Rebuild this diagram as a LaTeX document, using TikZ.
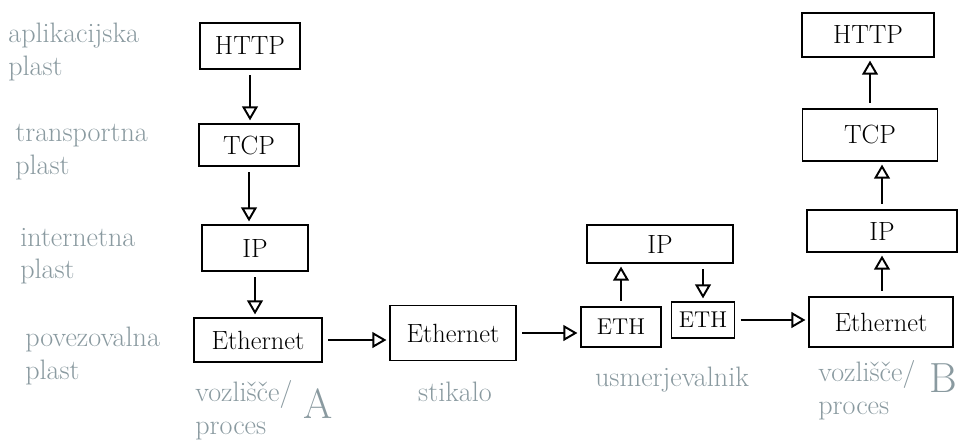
\documentclass[tikz,border=0pt]{standalone}
\usetikzlibrary{arrows.meta}
\definecolor{pencil}{RGB}{138,154,160}
\begin{document}
\begin{tikzpicture}[x=0.02cm,y=-0.02cm,
    layer/.style 2 args={draw,line width=1.1pt,inner sep=1pt,
      minimum width=#1,minimum height=#2,font=\fontsize{15}{18}\selectfont},
    note/.style={text=pencil,align=left,inner sep=0pt,
      font=\fontsize{16}{18.5}\selectfont},
    mark letter/.style={text=pencil,inner sep=0pt,font=\fontsize{24}{24}\selectfont}]
  \useasboundingbox (0,0) rectangle (972,442);
  \draw
    (250,46) node[layer={2cm}{0.92cm}] (httpA){HTTP}
    (249,145) node[layer={2cm}{0.84cm}] (tcpA){TCP}
    (255,248) node[layer={2.12cm}{0.92cm}] (ipA){IP}
    (258,340) node[layer={2.56cm}{0.88cm}] (ethA){Ethernet}
    (453,333) node[layer={2.52cm}{1.1cm}] (ethS){Ethernet}
    (621,327) node[layer={1.6cm}{0.8cm},font=\fontsize{13}{16}\selectfont] (ethR1){ETH}
    (703,320) node[layer={1.26cm}{0.72cm},font=\fontsize{13}{16}\selectfont] (ethR2){ETH}
    (660,244) node[layer={2.92cm}{0.76cm}] (ipR){IP}
    (881,322) node[layer={2.88cm}{1cm}] (ethB){Ethernet}
    (882,231) node[layer={3cm}{0.84cm}] (ipB){IP}
    (870,135) node[layer={2.7cm}{1.04cm}] (tcpB){TCP}
    (868,35) node[layer={2.64cm}{0.88cm}] (httpB){HTTP};
  % plasti
  \draw
    (8,52) node[note,anchor=west] (appL){aplikacijska\\plast}
    (15,152) node[note,anchor=west] (trL){transportna\\plast}
    (20,256) node[note,anchor=west] (inL){internetna\\plast}
    (25,356) node[note,anchor=west] (linkL){povezovalna\\plast};
  % naprave
  \draw
    (195,410) node[note,anchor=west] (hostA){vozlišče/\\proces}
    (318,404) node[mark letter] (letA){A}
    (455,392) node[note] (switch){stikalo}
    (672,380) node[note] (router){usmerjevalnik}
    (818,390) node[note,anchor=west] (hostB){vozlišče/\\proces}
    (943,378) node[mark letter] (letB){B};
  \begin{scope}[-{Triangle[open,length=8pt,width=9pt]},line width=1.1pt,
      shorten >=1.5pt,shorten <=3pt]
    \draw (httpA.south) -- (httpA.south |- tcpA.north);
    \draw (tcpA.south) -- (tcpA.south |- ipA.north);
    \draw (ipA.south) -- (ipA.south |- ethA.north);
    \draw (ethA.east) -- (ethA.east -| ethS.west);
    \draw (ethS.east) -- (ethS.east -| ethR1.west);
    \draw (ethR1.north) -- (ethR1.north |- ipR.south);
    \draw (ipR.south -| ethR2) -- (ethR2.north);
    \draw (ethR2.east) -- (ethR2.east -| ethB.west);
    \draw (ethB.north -| ipB) -- (ipB.south);
    \draw (ipB.north) -- (ipB.north |- tcpB.south);
    \draw (tcpB.north) -- (tcpB.north |- httpB.south);
  \end{scope}
\end{tikzpicture}
\end{document}
